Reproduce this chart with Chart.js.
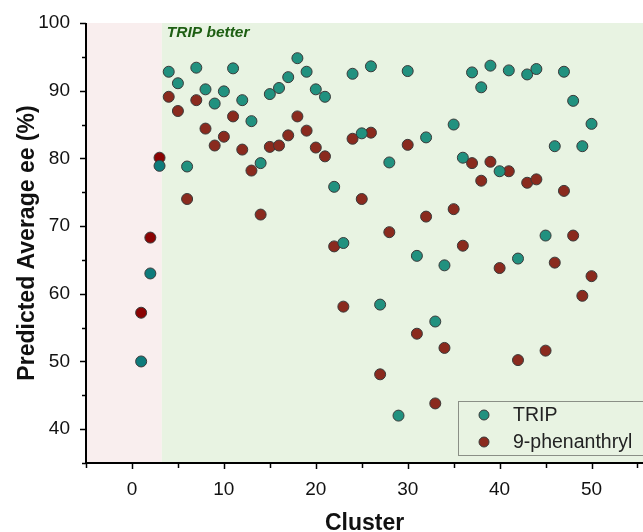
<!DOCTYPE html>
<html>
<head>
<meta charset="utf-8">
<script src="https://cdn.jsdelivr.net/npm/chart.js@4/dist/chart.umd.min.js"></script>
<style>
  html, body { margin: 0; padding: 0; background: #fff; }
  #wrap { width: 643px; height: 532px; }
</style>
</head>
<body>
<div id="wrap"><canvas id="eeChart" width="643" height="532"></canvas></div>
<script>
// clusters 1..50
var clusters = [];
for (var i = 1; i <= 50; i++) clusters.push(i);

var tripEE = [50.0, 63.0, 78.9, 92.8, 91.1, 78.8, 93.4, 90.2, 88.1, 89.9,
              93.3, 88.6, 85.5, 79.3, 89.5, 90.4, 92.0, 94.8, 92.8, 90.2,
              89.1, 75.8, 67.5, 92.5, 83.7, 93.6, 58.4, 79.4, 42.0, 92.9,
              65.6, 83.1, 55.9, 64.2, 85.0, 80.1, 92.7, 90.5, 93.7, 78.1,
              93.0, 65.2, 92.4, 93.2, 68.6, 81.8, 92.8, 88.5, 81.8, 85.1];

var phenEE = [57.2, 68.3, 80.1, 89.1, 87.0, 74.0, 88.6, 84.4, 81.9, 83.2,
              86.2, 81.3, 78.2, 71.7, 81.7, 81.9, 83.4, 86.2, 84.1, 81.6,
              80.3, 67.0, 58.1, 82.9, 74.0, 83.8, 48.1, 69.1, null, 82.0,
              54.1, 71.4, 43.8, 52.0, 72.5, 67.1, 79.3, 76.7, 79.5, 63.8,
              78.1, 50.2, 76.4, 76.9, 51.6, 64.6, 75.2, 68.6, 59.7, 62.6];

var seriesNames = ['TRIP', '9-phenanthryl'];
var xTickLabels = [0, 10, 20, 30, 40, 50];
var yTickLabels = [40, 50, 60, 70, 80, 90, 100];
var betterFrom = 3.25; // boundary of the shaded regions

var TEAL = '#21917f', TEAL_DARK = '#0e7b7b';
var RED = '#8a2a1e', RED_DARK = '#8b0303';
var FONT = '"Liberation Sans", Arial, sans-serif';

function toPoints(vals) {
    var pts = [];
    vals.forEach(function(v, i) {
        if (v !== null) pts.push({ x: clusters[i], y: v });
    });
    return pts;
}
function colorsFor(vals, normal, dark) {
    return toPoints(vals).map(function(p) { return p.x <= 3 ? dark : normal; });
}

// background regions + label
var regionsPlugin = {
    id: 'regions',
    beforeDatasetsDraw: function(chart) {
        var ctx = chart.ctx, a = chart.chartArea, xs = chart.scales.x;
        var xb = xs.getPixelForValue(betterFrom);
        ctx.save();
        ctx.fillStyle = '#f9eeee';
        ctx.fillRect(a.left, a.top, xb - a.left, a.bottom - a.top);
        ctx.fillStyle = '#e8f3e2';
        ctx.fillRect(xb, a.top, a.right - xb, a.bottom - a.top);
        ctx.fillStyle = '#1d5e12';
        ctx.font = 'italic bold 15.5px ' + FONT;
        ctx.textBaseline = 'middle';
        ctx.fillText('TRIP better', xb + 5, a.top + 10);
        ctx.restore();
    }
};

// axes lines, major/minor ticks, legend
var axesPlugin = {
    id: 'axesLegend',
    afterDatasetsDraw: function(chart) {
        var ctx = chart.ctx, a = chart.chartArea;
        var xs = chart.scales.x, ys = chart.scales.y;
        ctx.save();
        ctx.strokeStyle = '#000';
        ctx.lineWidth = 1.5;
        for (var v = -5; v <= 55; v += 5) {
            var px = Math.round(xs.getPixelForValue(v)) + 0.5;
            ctx.beginPath();
            ctx.moveTo(px, a.bottom);
            ctx.lineTo(px, a.bottom + (v % 10 === 0 ? 6 : 5));
            ctx.stroke();
        }
        for (var w = 35; w <= 100; w += 5) {
            var py = Math.round(ys.getPixelForValue(w)) + 0.5;
            ctx.beginPath();
            ctx.moveTo(a.left, py);
            ctx.lineTo(a.left - (w % 10 === 0 ? 6 : 4), py);
            ctx.stroke();
        }
        ctx.lineWidth = 2;
        ctx.beginPath();
        ctx.moveTo(a.left, a.top);
        ctx.lineTo(a.left, a.bottom);
        ctx.lineTo(a.right, a.bottom);
        ctx.stroke();

        // legend box
        var lx = 458, ly = 401, lw = 190, lh = 54;
        ctx.strokeStyle = '#8a8f86';
        ctx.lineWidth = 1;
        ctx.strokeRect(lx + 0.5, ly + 0.5, lw, lh);
        var cols = [TEAL, RED];
        seriesNames.forEach(function(name, i) {
            var cy = ly + 14 + i * 27;
            ctx.beginPath();
            ctx.arc(lx + 26, cy, 5, 0, Math.PI * 2);
            ctx.fillStyle = cols[i];
            ctx.fill();
            ctx.strokeStyle = '#3a3a3a';
            ctx.stroke();
            ctx.fillStyle = '#222';
            ctx.font = '19.5px ' + FONT;
            ctx.textBaseline = 'middle';
            ctx.fillText(name, lx + 55, cy + 1);
        });
        ctx.restore();
    }
};

var chart = new Chart(document.getElementById('eeChart').getContext('2d'), {
    type: 'scatter',
    data: {
        datasets: [{
            label: seriesNames[0],
            data: toPoints(tripEE),
            backgroundColor: colorsFor(tripEE, TEAL, TEAL_DARK),
            borderColor: '#3a3a3a',
            borderWidth: 1,
            pointRadius: 5.5
        }, {
            label: seriesNames[1],
            data: toPoints(phenEE),
            backgroundColor: colorsFor(phenEE, RED, RED_DARK),
            borderColor: '#3a3a3a',
            borderWidth: 1,
            pointRadius: 5.5
        }]
    },
    options: {
        responsive: false,
        animation: false,
        layout: { autoPadding: false, padding: { top: 23, right: 0, left: 10, bottom: 0 } },
        plugins: {
            legend: { display: false },
            tooltip: { enabled: false }
        },
        scales: {
            x: {
                type: 'linear',
                min: -5, max: 55.6,
                afterBuildTicks: function(s) {
                    s.ticks = xTickLabels.map(function(v) { return { value: v }; });
                },
                ticks: {
                    color: '#111',
                    font: { family: FONT, size: 19 },
                    padding: 15,
                    maxRotation: 0
                },
                grid: { display: false, drawTicks: false },
                border: { display: false },
                title: {
                    display: true, text: 'Cluster', color: '#111',
                    font: { family: FONT, size: 23, weight: 'bold', lineHeight: 0.7 },
                    padding: { top: 11, bottom: 0 }
                },
                afterFit: function(s) {
                    s.height = 69;
                    s.paddingLeft = 0; s.paddingRight = 0;
                }
            },
            y: {
                type: 'linear',
                min: 35, max: 100,
                afterBuildTicks: function(s) {
                    s.ticks = yTickLabels.map(function(v) { return { value: v }; });
                },
                ticks: {
                    color: '#111',
                    font: { family: FONT, size: 19 },
                    padding: 16
                },
                grid: { display: false, drawTicks: false },
                border: { display: false },
                title: {
                    display: true, text: 'Predicted Average ee (%)', color: '#111',
                    font: { family: FONT, size: 23, weight: 'bold' },
                    padding: { top: 4, bottom: 2 }
                },
                afterFit: function(s) {
                    s.width = 76;
                    s.paddingTop = 0; s.paddingBottom = 0;
                }
            }
        }
    },
    plugins: [regionsPlugin, axesPlugin]
});
</script>
</body>
</html>
